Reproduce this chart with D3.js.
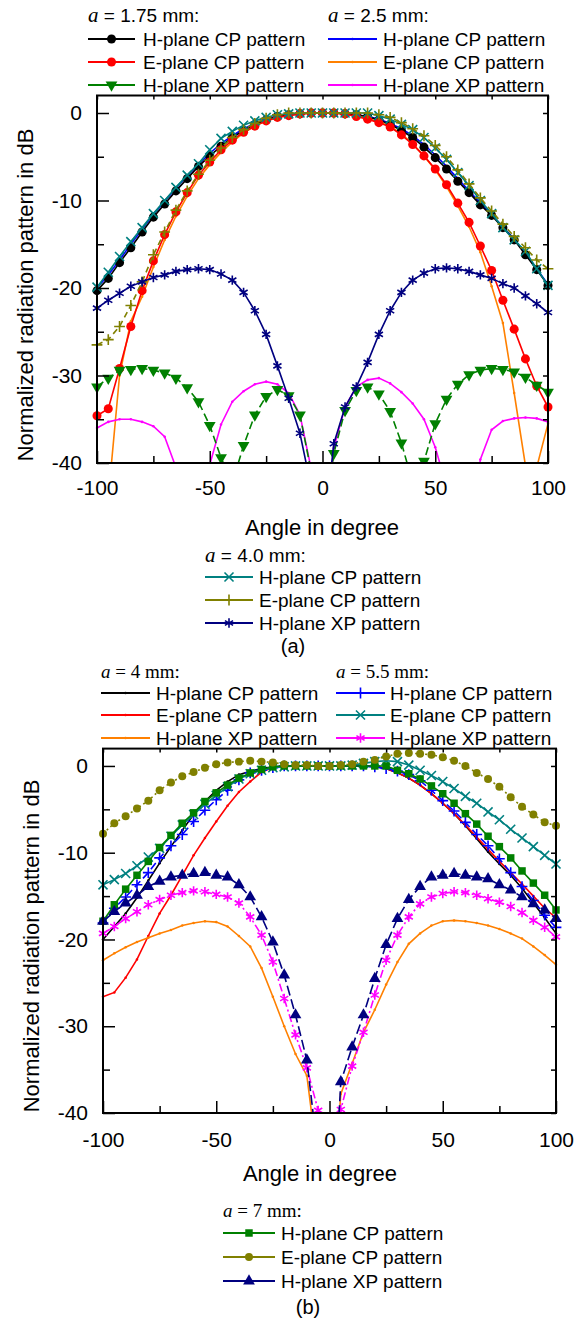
<!DOCTYPE html>
<html>
<head>
<meta charset="utf-8">
<title>Radiation patterns</title>
<script src="https://d3js.org/d3.v7.min.js"></script>
<style>
  body { margin: 0; background: #fff; }
  svg { display: block; background: #fff; }
  text { font-family: Arial, "Liberation Sans", sans-serif; fill: #000; }
</style>
</head>
<body>
<script>

// angle in degree, shared by every curve
var angles = [-100,-95,-90,-85,-80,-75,-70,-65,-60,-55,-50,-45,-40,-35,-30,-25,-20,-15,-10,-5,
              0,5,10,15,20,25,30,35,40,45,50,55,60,65,70,75,80,85,90,95,100];

// (a) a = 1.75 mm
var hcp175 = [-20.3,-18.9,-17.1,-15.4,-13.6,-11.9,-10.4,-8.9,-7.5,-6.1,-4.9,-3.8,-2.8,-2.0,-1.3,-0.8,-0.4,-0.2,-0.1,0,
              0,0,-0.1,-0.2,-0.4,-0.8,-1.3,-2.0,-2.8,-3.9,-5.1,-6.4,-7.8,-9.1,-10.5,-11.7,-13.1,-14.5,-16.2,-17.9,-19.7];
var ecp175 = [-34.6,-33.8,-29.2,-24.4,-20.3,-16.9,-13.9,-11.3,-9.1,-7.1,-5.6,-4.2,-3.1,-2.2,-1.5,-0.9,-0.5,-0.3,-0.1,0,
              0,0,-0.1,-0.4,-0.7,-1.1,-1.6,-2.5,-3.6,-4.9,-6.4,-8.2,-10.3,-12.5,-15.2,-18.0,-21.4,-24.7,-28.1,-31.2,-33.6];
var xp175  = [-31.3,-30.3,-29.4,-29.3,-29.2,-29.4,-29.7,-30.3,-31.4,-33.0,-35.7,-39.4,-42.3,-38.0,-34.5,-32.4,-31.6,-32.3,-34.5,-41,
              -50,-38.9,-34.0,-31.7,-31.3,-32.1,-34.1,-37.7,-42.3,-39.8,-35.5,-32.7,-31.0,-29.9,-29.4,-29.2,-29.3,-29.6,-30.2,-31.1,-31.9];
// (a) a = 2.5 mm
var hcp25 = [-20.0,-18.5,-16.8,-15.0,-13.3,-11.6,-10.1,-8.6,-7.2,-5.9,-4.6,-3.5,-2.6,-1.8,-1.2,-0.7,-0.4,-0.2,0,0,
             0,0,0,-0.2,-0.4,-0.7,-1.2,-1.8,-2.6,-3.6,-4.8,-6.1,-7.5,-8.9,-10.3,-11.6,-13.0,-14.4,-16.1,-17.8,-19.6];
var ecp25 = [-55,-44,-30.0,-23.8,-21.0,-17.6,-14.5,-11.8,-9.5,-7.5,-5.9,-4.5,-3.3,-2.3,-1.5,-0.9,-0.5,-0.2,-0.1,0,
             0,0,-0.1,-0.3,-0.6,-1.0,-1.5,-2.4,-3.5,-4.9,-6.5,-8.4,-10.6,-13.0,-15.9,-19.8,-24.0,-32.0,-40.3,-40.5,-35.5];
var xp25  = [-36.0,-35.3,-35.0,-35.0,-35.3,-35.8,-37.0,-40.5,-48,-48,-40.2,-35.6,-33.0,-31.8,-31.0,-30.7,-31.0,-32.0,-34.5,-40.7,
             -50,-38.3,-33.6,-31.3,-30.5,-30.3,-30.9,-31.9,-33.2,-35.0,-38.2,-42.7,-50,-50,-39.6,-36.2,-35.2,-34.9,-34.8,-34.9,-35.3];
// (a) a = 4.0 mm
var hcp40 = [-19.9,-18.2,-16.4,-14.7,-13.1,-11.5,-10.0,-8.5,-7.1,-5.8,-4.2,-2.9,-2.1,-1.4,-0.9,-0.5,-0.2,-0.1,0,0,
             0,0,0,0,0,-0.3,-0.7,-1.3,-1.9,-2.8,-4.0,-5.3,-6.8,-8.3,-10.0,-11.5,-13.1,-14.5,-15.8,-17.8,-19.7];
var ecp40 = [-26.5,-25.9,-24.4,-22.0,-19.3,-16.2,-13.6,-11.1,-8.9,-7.0,-5.4,-4.0,-2.8,-1.9,-1.2,-0.6,-0.2,0,0,0,
             0,0,0,0,0,-0.2,-0.5,-1.1,-1.8,-2.6,-3.7,-5.0,-6.5,-8.1,-9.7,-11.2,-12.7,-14.1,-15.4,-16.8,-17.8];
var xp40  = [-22.3,-21.4,-20.6,-19.8,-19.3,-18.8,-18.5,-18.1,-17.9,-17.8,-17.9,-18.4,-19.1,-20.5,-22.6,-25.3,-28.9,-32.6,-36.6,-42.8,
             -50,-37.8,-33.6,-31.3,-28.5,-25.3,-22.6,-20.5,-19.1,-18.3,-17.8,-17.7,-17.8,-18.1,-18.5,-18.9,-19.5,-20.0,-20.9,-21.8,-22.8];

// (b) a = 4 mm
var hcp4 = [-20.0,-18.5,-17.0,-15.2,-13.2,-11.2,-9.3,-7.4,-5.6,-4.1,-2.8,-1.8,-1.0,-0.6,-0.3,-0.1,0,0,0,0,
            0,0,0,0,-0.1,-0.3,-0.8,-1.4,-2.2,-3.2,-4.3,-5.5,-6.9,-8.4,-9.9,-11.3,-12.6,-14.1,-15.8,-17.5,-19.3];
var ecp4 = [-26.6,-26.1,-24.4,-22.3,-19.6,-17.0,-14.9,-12.6,-10.3,-8.3,-6.4,-4.6,-3.0,-1.8,-0.7,-0.2,0,0,0,0,
            0,0,0,0,0,-0.3,-0.8,-1.4,-2.2,-3.2,-4.3,-5.5,-6.8,-8.2,-9.6,-11.0,-12.3,-13.6,-15.0,-16.4,-17.5];
var xp4  = [-22.4,-21.6,-20.9,-20.3,-19.8,-19.3,-18.9,-18.4,-18.1,-17.9,-18.0,-18.5,-19.6,-20.8,-23.3,-26.6,-30.0,-33.2,-35.7,-46,
            -55,-37.8,-34.3,-30.7,-28.1,-25.2,-22.6,-20.5,-19.3,-18.4,-17.9,-17.8,-17.9,-18.1,-18.4,-18.8,-19.3,-19.9,-20.8,-21.8,-22.9];
// (b) a = 5.5 mm
var hcp55 = [-18.1,-16.4,-15.1,-13.7,-12.3,-10.6,-9.2,-7.9,-6.4,-5.1,-3.9,-2.8,-1.6,-0.8,-0.5,-0.2,0,0,0,0,
             0,0,0,0,-0.1,-0.3,-0.6,-1.0,-1.7,-2.8,-4.0,-5.2,-6.5,-7.9,-9.2,-10.7,-12.3,-13.9,-15.5,-17.2,-18.6];
var ecp55 = [-13.7,-13.1,-12.4,-11.5,-10.5,-9.5,-8.1,-6.8,-5.6,-4.4,-3.4,-2.4,-1.5,-0.9,-0.5,-0.2,-0.1,0,0,0,
             0,0,0.1,0.3,0.5,0.6,0.5,0.1,-0.5,-1.1,-1.8,-2.6,-3.5,-4.3,-5.3,-6.2,-7.3,-8.3,-9.3,-10.3,-11.3];
var xp55  = [-19.3,-18.5,-17.6,-16.8,-16.0,-15.4,-14.9,-14.6,-14.4,-14.5,-14.8,-15.1,-15.8,-17.4,-19.5,-22.6,-26.8,-31.0,-34.8,-39.7,
             -60,-39.6,-34.6,-30.7,-26.4,-22.4,-19.5,-17.4,-15.9,-15.1,-14.7,-14.5,-14.6,-14.9,-15.3,-15.7,-16.2,-16.9,-17.8,-18.6,-19.7];
// (b) a = 7 mm
var hcp7 = [-17.9,-16.0,-14.2,-12.6,-11.0,-9.4,-8.0,-6.6,-5.4,-4.1,-3.1,-2.2,-1.4,-0.8,-0.4,-0.1,0,0,0,0,
            0,0,0,0,0,0,-0.5,-0.9,-1.5,-2.3,-3.2,-4.3,-5.5,-6.7,-8.1,-9.3,-10.6,-12.1,-13.5,-14.9,-16.6];
var ecp7 = [-7.8,-6.6,-5.8,-4.9,-4.0,-2.8,-1.9,-1.2,-0.7,-0.2,0.2,0.4,0.5,0.6,0.5,0.4,0.2,0.1,0.1,0,
            0,0.1,0.2,0.5,0.7,1.1,1.4,1.5,1.4,1.3,1.0,0.6,0,-0.8,-1.5,-2.4,-3.6,-4.7,-5.6,-6.5,-6.9];
var xp7  = [-17.9,-16.8,-15.8,-14.9,-13.9,-13.3,-12.8,-12.6,-12.4,-12.3,-12.6,-12.8,-13.7,-15.1,-17.4,-20.3,-24.1,-28.7,-33.9,-45,
            -60,-36.4,-32.4,-28.7,-24.5,-20.6,-17.6,-15.4,-13.9,-12.8,-12.6,-12.4,-12.6,-12.8,-13.0,-13.7,-14.3,-15.1,-15.9,-16.6,-17.6];

var xTicks = [-100, -50, 0, 50, 100];
var xMinor = [-75, -25, 25, 75];
var xTop = [-100, -75, -50, -25, 0, 25, 50, 75, 100];
var yTicks = [-40, -30, -20, -10, 0];
var yMinor = [-35, -25, -15, -5];
var yRight = [-40, -35, -30, -25, -20, -15, -10, -5, 0];

var svg = d3.select("body").append("svg")
            .attr("width", 582)
            .attr("height", 1318);

function markerPath(kind) {
  var t = {
    circle: [d3.symbolCircle, 64], circleS: [d3.symbolCircle, 50], dot: [d3.symbolCircle, 5],
    tri: [d3.symbolTriangle, 60], tridown: [d3.symbolTriangle, 60], square: [d3.symbolSquare, 56],
    times: [d3.symbolTimes, 55], plus: [d3.symbolPlus, 40], asterisk: [d3.symbolAsterisk, 62]
  }[kind];
  return d3.symbol().type(t[0]).size(t[1])();
}

function drawMarker(g, kind, color, cx, cy) {
  var stroked = (kind == "times" || kind == "plus" || kind == "asterisk");
  g.append("path")
    .attr("d", markerPath(kind))
    .attr("transform", "translate(" + cx + "," + cy + ")" + (kind == "tridown" ? " rotate(180)" : ""))
    .attr("fill", stroked ? "none" : color)
    .attr("stroke", color)
    .attr("stroke-width", stroked ? 1.6 : 0);
}

function drawPanel(p) {
  var x = d3.scaleLinear().domain([-100, 100]).range([p.left, p.right]);
  var y = d3.scaleLinear().domain([-40, 2]).range([p.bottom, p.top]);
  var g = svg.append("g");

  g.append("clipPath").attr("id", p.id)
    .append("rect")
    .attr("x", p.left - 8).attr("y", p.top)
    .attr("width", p.right - p.left + 16).attr("height", p.bottom - p.top);

  var plot = g.append("g").attr("clip-path", "url(#" + p.id + ")");
  var line = d3.line().x(function(d, i) { return x(angles[i]); }).y(function(d) { return y(d); });

  p.series.forEach(function(s) {
    plot.append("path")
      .datum(s.values)
      .attr("d", line)
      .attr("fill", "none")
      .attr("stroke", s.color)
      .attr("stroke-width", 1.6)
      .attr("stroke-dasharray", s.dash || null);
    s.values.forEach(function(v, i) {
      drawMarker(plot, s.marker, s.color, x(angles[i]), y(v));
    });
  });

  function style(sel, labels) {
    sel.select(".domain").remove();
    sel.selectAll("line").attr("stroke", "#000").attr("stroke-width", 1.5);
    sel.selectAll("text").attr("font-size", 21).attr("font-family", "Arial, 'Liberation Sans', sans-serif").attr("fill", "#000");
    if (!labels) sel.selectAll("text").remove();
  }

  g.append("g").attr("transform", "translate(0," + p.bottom + ")")
    .call(d3.axisBottom(x).tickValues(xTicks).tickSize(-12).tickPadding(p.xPad).tickFormat(String))
    .call(style, true);
  g.append("g").attr("transform", "translate(0," + p.bottom + ")")
    .call(d3.axisBottom(x).tickValues(xMinor).tickSize(-7))
    .call(style, false);
  g.append("g").attr("transform", "translate(0," + p.top + ")")
    .call(d3.axisTop(x).tickValues(xTop).tickSize(-4))
    .call(style, false);
  g.append("g").attr("transform", "translate(" + p.left + ",0)")
    .call(d3.axisLeft(y).tickValues(yTicks).tickSize(-12).tickPadding(15).tickFormat(String))
    .call(style, true);
  g.append("g").attr("transform", "translate(" + p.left + ",0)")
    .call(d3.axisLeft(y).tickValues(yMinor).tickSize(-7))
    .call(style, false);
  g.append("g").attr("transform", "translate(" + p.right + ",0)")
    .call(d3.axisRight(y).tickValues(yRight).tickSize(-5))
    .call(style, false);

  g.append("rect")
    .attr("x", p.left).attr("y", p.top)
    .attr("width", p.right - p.left).attr("height", p.bottom - p.top)
    .attr("fill", "none").attr("stroke", "#000").attr("stroke-width", 2);

  g.append("text")
    .attr("x", p.titleX).attr("y", p.bottom + p.titleDy)
    .attr("text-anchor", "middle").attr("font-size", 22)
    .text("Angle in degree");

  g.append("text")
    .attr("transform", "translate(" + p.yTitleX + "," + p.yTitleY + ") rotate(-90)")
    .attr("text-anchor", "middle").attr("font-size", 22)
    .text("Normalized radiation pattern in dB");
}

function legendHeader(x0, yb, value, serifAll) {
  var t = svg.append("text").attr("x", x0).attr("y", yb);
  t.append("tspan")
    .attr("font-family", "'Liberation Serif', 'Times New Roman', serif")
    .attr("font-style", "italic").attr("font-size", serifAll ? 19 : 21)
    .text("a");
  t.append("tspan")
    .attr("font-family", serifAll ? "'Liberation Serif', 'Times New Roman', serif" : "Arial, 'Liberation Sans', sans-serif")
    .attr("font-size", 19)
    .text(" = " + value + " mm:");
}

function legendBlock(x1, x2, textX, headerY, rowYs, value, serifAll, items) {
  legendHeader(x1, headerY, value, serifAll);
  items.forEach(function(s, i) {
    var yc = rowYs[i];
    svg.append("line").attr("x1", x1).attr("x2", x2).attr("y1", yc).attr("y2", yc)
      .attr("stroke", s.color).attr("stroke-width", 1.8);
    drawMarker(svg, s.marker, s.color, (x1 + x2) / 2, yc);
    svg.append("text").attr("x", textX).attr("y", yc + 7).attr("font-size", 19).text(s.label);
  });
}

var sA175 = [
  { values: hcp175, color: "#000000", marker: "circle", label: "H-plane CP pattern" },
  { values: ecp175, color: "#ff0000", marker: "circle", label: "E-plane CP pattern" },
  { values: xp175,  color: "#008000", marker: "tridown", dash: "8,4", label: "H-plane XP pattern" }
];
var sA25 = [
  { values: hcp25, color: "#0000ff", marker: "dot", label: "H-plane CP pattern" },
  { values: ecp25, color: "#ff8000", marker: "dot", label: "E-plane CP pattern" },
  { values: xp25,  color: "#ff00ff", marker: "dot", label: "H-plane XP pattern" }
];
var sA40 = [
  { values: hcp40, color: "#008080", marker: "times", label: "H-plane CP pattern" },
  { values: ecp40, color: "#808000", marker: "plus", dash: "6,4", label: "E-plane CP pattern" },
  { values: xp40,  color: "#000080", marker: "asterisk", label: "H-plane XP pattern" }
];
var sB4 = [
  { values: hcp4, color: "#000000", marker: "dot", label: "H-plane CP pattern" },
  { values: ecp4, color: "#ff0000", marker: "dot", label: "E-plane CP pattern" },
  { values: xp4,  color: "#ff8000", marker: "dot", label: "H-plane XP pattern" }
];
var sB55 = [
  { values: hcp55, color: "#0000ff", marker: "plus", dash: "8,4", label: "H-plane CP pattern" },
  { values: ecp55, color: "#008080", marker: "times", label: "E-plane CP pattern" },
  { values: xp55,  color: "#ff00ff", marker: "asterisk", dash: "8,3,2,3", label: "H-plane XP pattern" }
];
var sB7 = [
  { values: hcp7, color: "#008000", marker: "square", label: "H-plane CP pattern" },
  { values: ecp7, color: "#808000", marker: "circleS", dash: "2,3", label: "E-plane CP pattern" },
  { values: xp7,  color: "#000080", marker: "tri", dash: "10,4", label: "H-plane XP pattern" }
];

drawPanel({ id: "clipA", left: 97, right: 548, top: 95.5, bottom: 463, xPad: 17,
            titleX: 322, titleDy: 72, yTitleX: 33, yTitleY: 295,
            series: sA25.concat(sA175, sA40) });
drawPanel({ id: "clipB", left: 103, right: 556, top: 748.6, bottom: 1113, xPad: 19,
            titleX: 320, titleDy: 68, yTitleX: 39, yTitleY: 946,
            series: sB4.concat(sB55, sB7) });

legendBlock(88, 135, 143, 22, [39, 62, 85], "1.75", false, sA175);
legendBlock(328, 377, 383, 22, [39, 62, 85], "2.5", false, sA25);
legendBlock(205, 253, 259, 562, [577, 600, 623], "4.0", false, sA40);
legendBlock(101, 150, 156, 678, [693, 715, 738], "4", true, sB4);
legendBlock(336, 385, 390, 678, [693, 715, 738], "5.5", true, sB55);
legendBlock(223, 275, 281, 1217, [1233, 1257, 1281], "7", true, sB7);

svg.append("text").attr("x", 293).attr("y", 653).attr("text-anchor", "middle")
  .attr("font-family", "'Liberation Serif', 'Times New Roman', serif").attr("font-size", 20).text("(a)");
svg.append("text").attr("x", 308).attr("y", 1314).attr("text-anchor", "middle")
  .attr("font-family", "'Liberation Serif', 'Times New Roman', serif").attr("font-size", 20).text("(b)");

</script>
</body>
</html>
